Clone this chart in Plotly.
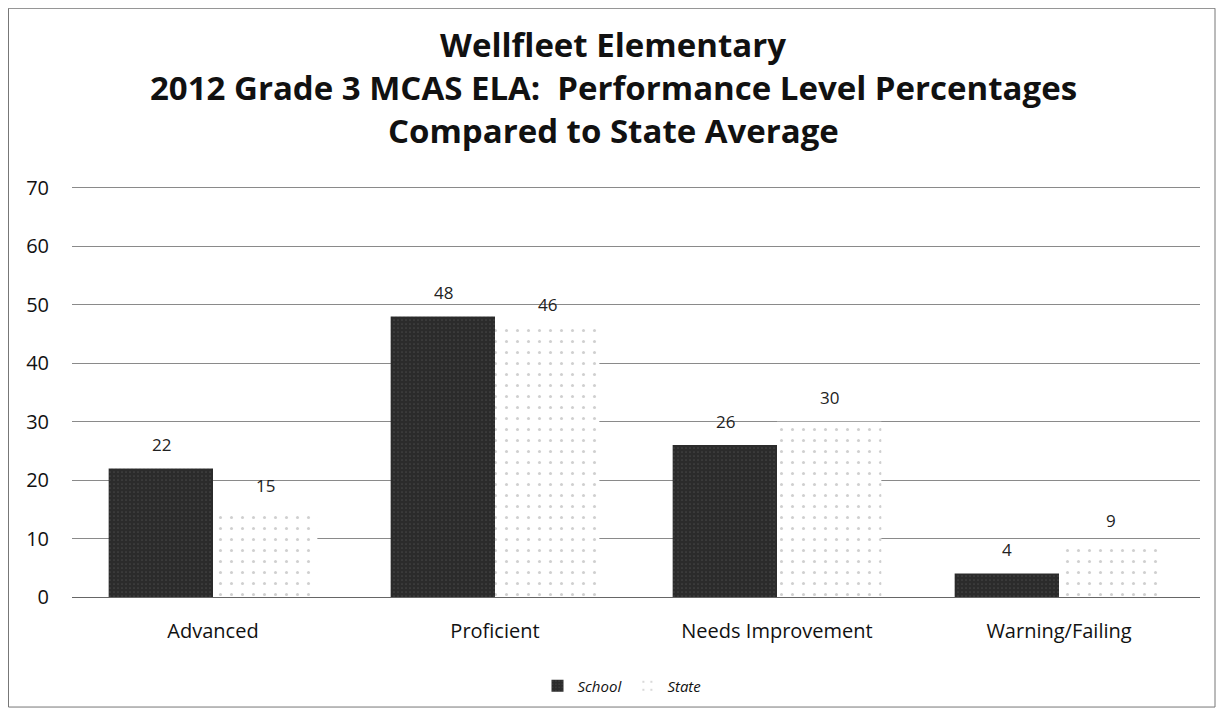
import plotly.graph_objects as go

categories = ["Advanced", "Proficient", "Needs Improvement", "Warning/Failing"]
school = [22, 48, 26, 4]
state = [15, 46, 30, 9]
title_lines = ["Wellfleet Elementary",
               "2012 Grade 3 MCAS ELA:  Performance Level Percentages",
               "Compared to State Average"]
y_ticks = [0, 10, 20, 30, 40, 50, 60, 70]

FONT = "Open Sans"
UNIT = 409 / 70.0          # px per value unit
YMAX = 71
PW, PH = 1128, YMAX * UNIT  # plot area size in px

fig = go.Figure()
fig.add_trace(go.Bar(
    name="School", x=categories, y=school,
    marker=dict(color="#2b2b2b", line=dict(width=0),
                pattern=dict(shape=".", fgcolor="#5e5e5e", bgcolor="#2b2b2b", size=4, solidity=0.15)),
))
fig.add_trace(go.Bar(
    name="State", x=categories, y=state,
    marker=dict(color="white", line=dict(width=0),
                pattern=dict(shape=".", fgcolor="#a0a0a0", bgcolor="white", size=11, solidity=0.06)),
))

# value labels placed from the data through the axes
for vals, dx in ((school, -52), (state, 52)):
    for c, v in zip(categories, vals):
        fig.add_annotation(x=c, y=v, text=str(v), showarrow=False, xshift=dx, yshift=24,
                           font=dict(size=17, color="#222", family=FONT))

for line, yy in zip(title_lines, [45, 88, 131]):
    fig.add_annotation(text="<b>%s</b>" % line, xref="paper", yref="paper",
                       x=(613 - 72) / PW, y=(597 - yy) / PH, xanchor="center", yanchor="middle",
                       showarrow=False, font=dict(size=33, family=FONT, color="#111"))

fig.add_shape(type="rect", xref="paper", yref="paper",
              x0=(8.5 - 72) / PW, x1=(1215 - 72) / PW,
              y0=(597 - 707) / PH, y1=(597 - 8.5) / PH,
              line=dict(color="#777", width=1), fillcolor="rgba(0,0,0,0)", layer="below")

top = 597 - PH - 8
fig.update_layout(
    width=1219, height=706,
    margin=dict(l=64, r=27, t=top, b=117),
    paper_bgcolor="white", plot_bgcolor="white",
    barmode="group", bargap=0.26, bargroupgap=0.0,
    font=dict(family=FONT, color="#111"),
    showlegend=True,
    legend=dict(orientation="h", x=(622 - 72) / PW, xanchor="center", y=(597 - 686) / PH, yanchor="middle",
                font=dict(size=15, family=FONT, style="italic"), itemwidth=30),
    yaxis=dict(range=[0, YMAX], tickvals=y_ticks, showgrid=True, gridcolor="#8a8a8a", gridwidth=1,
               zeroline=False, tickfont=dict(size=20, family=FONT), ticks="", ticklabelstandoff=22,
               showline=False),
    xaxis=dict(showline=True, linecolor="#666", tickfont=dict(size=20, family=FONT), ticks="",
               ticklabelstandoff=16),
)

fig.write_html("out.html")
